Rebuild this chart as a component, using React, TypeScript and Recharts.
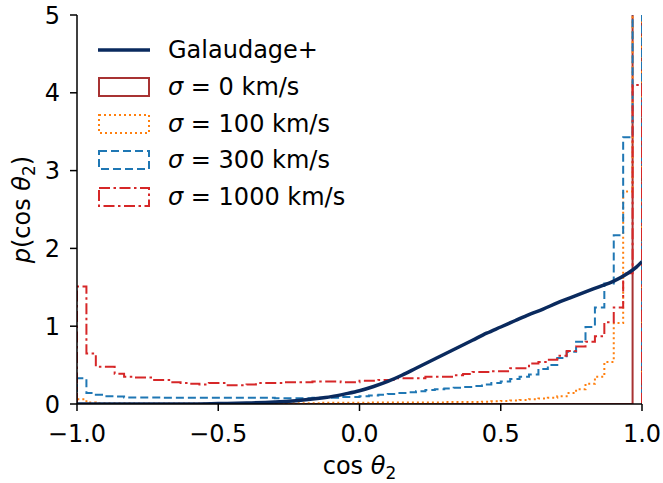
import { LineChart, Line, XAxis, YAxis, Legend } from "recharts";

const FONT = "DejaVu Sans, Liberation Sans, sans-serif";
const FS = 24;

// histogram bins: 60 bins over cos(theta_2) in [-1, 1]
const binCount = 60;
const binEdges = Array.from({ length: binCount + 1 }, (_, i) => -1 + (2 * i) / binCount);

const sigma0 = [
  0, 0, 0, 0, 0, 0, 0, 0, 0, 0,
  0, 0, 0, 0, 0, 0, 0, 0, 0, 0,
  0, 0, 0, 0, 0, 0, 0, 0, 0, 0,
  0, 0, 0, 0, 0, 0, 0, 0, 0, 0,
  0, 0, 0, 0, 0, 0, 0, 0, 0, 0,
  0, 0, 0, 0, 0, 0, 0, 0, 0, 30,
];

const sigma100 = [
  0.06, 0.02, 0.01, 0.01, 0.01, 0.01, 0.005, 0.005, 0.005, 0.005,
  0.005, 0.005, 0.005, 0.005, 0.005, 0.005, 0.01, 0.01, 0.01, 0.01,
  0.01, 0.01, 0.01, 0.01, 0.01, 0.01, 0.015, 0.015, 0.015, 0.015,
  0.015, 0.02, 0.02, 0.02, 0.02, 0.02, 0.02, 0.02, 0.02, 0.025,
  0.025, 0.025, 0.025, 0.03, 0.035, 0.04, 0.045, 0.05, 0.06, 0.07,
  0.08, 0.1, 0.14, 0.19, 0.26, 0.35, 0.54, 1.04, 2.73, 24,
];

const sigma300 = [
  0.33, 0.14, 0.12, 0.1, 0.095, 0.085, 0.085, 0.085, 0.085, 0.08,
  0.08, 0.08, 0.08, 0.08, 0.08, 0.08, 0.08, 0.08, 0.08, 0.08,
  0.08, 0.075, 0.075, 0.075, 0.075, 0.08, 0.08, 0.08, 0.09, 0.09,
  0.1, 0.11, 0.12, 0.13, 0.14, 0.15, 0.165, 0.18, 0.19, 0.2,
  0.21, 0.22, 0.23, 0.25, 0.27, 0.29, 0.32, 0.35, 0.38, 0.45,
  0.5, 0.59, 0.67, 0.8, 0.99, 1.24, 1.55, 2.17, 3.43, 10.5,
];

const sigma1000 = [
  1.51, 0.65, 0.48, 0.48, 0.39, 0.35, 0.34, 0.34, 0.31, 0.31,
  0.28, 0.27, 0.26, 0.25, 0.27, 0.27, 0.24, 0.24, 0.25, 0.27,
  0.27, 0.27, 0.28, 0.28, 0.28, 0.29, 0.29, 0.29, 0.28, 0.28,
  0.3, 0.3, 0.31, 0.31, 0.33, 0.33, 0.33, 0.35, 0.35, 0.35,
  0.37, 0.385, 0.41, 0.41, 0.42, 0.42, 0.46, 0.46, 0.52, 0.54,
  0.57, 0.62, 0.68, 0.74, 0.8, 0.87, 1.05, 1.24, 1.68, 4.1,
];

const galaudageX = [
  -1, -0.6, -0.5, -0.4, -0.3, -0.25, -0.2, -0.15, -0.1, -0.05,
  0, 0.05, 0.1, 0.15, 0.2, 0.25, 0.3, 0.35, 0.4, 0.45,
  0.5, 0.55, 0.6, 0.65, 0.7, 0.75, 0.8, 0.85, 0.9, 0.95,
  0.98, 1,
];
const galaudageY = [
  0, 0, 0.005, 0.012, 0.025, 0.035, 0.05, 0.07, 0.095, 0.13,
  0.17, 0.225, 0.29, 0.37, 0.46, 0.55, 0.64, 0.73, 0.82, 0.91,
  0.99, 1.07, 1.15, 1.22, 1.3, 1.37, 1.44, 1.51, 1.58, 1.68,
  1.76, 1.83,
];

const xTicks = [-1, -0.5, 0, 0.5, 1];
const yTicks = [0, 1, 2, 3, 4, 5];

// outline of a step histogram, closed down to zero at both ends
function stepOutline(values: number[]) {
  const pts = [{ x: binEdges[0], y: 0 }];
  values.forEach((v, i) => pts.push({ x: binEdges[i], y: v }));
  pts.push({ x: binEdges[binCount], y: values[binCount - 1] });
  pts.push({ x: binEdges[binCount], y: 0 });
  return pts;
}

const galaudageData = galaudageX.map((x, i) => ({ x, y: galaudageY[i] }));

const histSeries = [
  { name: "0", values: sigma0, color: "#a83232", dash: undefined },
  { name: "100", values: sigma100, color: "#ff7f0e", dash: "2 3" },
  { name: "300", values: sigma300, color: "#1f77b4", dash: "8 4" },
  { name: "1000", values: sigma1000, color: "#d62728", dash: "11 3.5 2.5 3.5" },
];

const NAVY = "#0a2a5e";

const fmtTick = (v: number) => (v < 0 ? "\u2212" + Math.abs(v).toFixed(1) : v.toFixed(1));

function XLabel(props: any) {
  const vb = props.viewBox || { x: 77, y: 404, width: 565 };
  const cx = vb.x + vb.width / 2;
  return (
    <text x={cx} y={vb.y + 70} textAnchor="middle" fontFamily={FONT} fontSize={FS} fill="#000">
      cos <tspan fontStyle="italic">θ</tspan>
      <tspan fontSize={17} dy={5}>2</tspan>
    </text>
  );
}

function YLabel(props: any) {
  const vb = props.viewBox || { x: 0, y: 15, width: 77, height: 389 };
  const cy = vb.y + vb.height / 2;
  const cx = 30;
  return (
    <text
      x={cx}
      y={cy}
      transform={`rotate(-90, ${cx}, ${cy})`}
      textAnchor="middle"
      fontFamily={FONT}
      fontSize={FS}
      fill="#000"
    >
      <tspan fontStyle="italic">p</tspan>(cos <tspan fontStyle="italic">θ</tspan>
      <tspan fontSize={17} dy={5}>2</tspan>
      <tspan dy={-5}>)</tspan>
    </text>
  );
}

function LegendBox() {
  const rowH = 36.7;
  return (
    <div style={{ fontFamily: FONT, fontSize: FS, color: "#000" }}>
      <div style={{ display: "flex", alignItems: "center", height: rowH }}>
        <svg width={52} height={20} style={{ marginRight: 18 }}>
          <line x1={0} x2={52} y1={10} y2={10} stroke={NAVY} strokeWidth={3.5} />
        </svg>
        <span>Galaudage+</span>
      </div>
      {histSeries.map((s) => (
        <div key={s.name} style={{ display: "flex", alignItems: "center", height: rowH }}>
          <svg width={52} height={20} style={{ marginRight: 18 }}>
            <rect
              x={1}
              y={1}
              width={50}
              height={18}
              fill="none"
              stroke={s.color}
              strokeWidth={2}
              strokeDasharray={s.dash}
            />
          </svg>
          <span>
            <i>σ</i> = {s.name} km/s
          </span>
        </div>
      ))}
    </div>
  );
}

export default function App() {
  return (
    <div style={{ position: "absolute", left: 0, top: 0, background: "#fff" }}>
      <LineChart width={663} height={483} margin={{ top: 15, right: 21, bottom: 0, left: 0 }}>
        <XAxis
          dataKey="x"
          type="number"
          domain={[-1, 1]}
          ticks={xTicks}
          tickFormatter={fmtTick}
          allowDataOverflow
          height={79}
          tickSize={7}
          tickMargin={14}
          axisLine={{ stroke: "#000", strokeWidth: 1.5 }}
          tickLine={{ stroke: "#000", strokeWidth: 1.5 }}
          tick={{ fontSize: FS, fill: "#000", fontFamily: FONT }}
          label={<XLabel />}
        />
        <XAxis
          xAxisId="top"
          orientation="top"
          type="number"
          domain={[-1, 1]}
          height={0}
          tick={false}
          tickLine={false}
          axisLine={{ stroke: "#000", strokeWidth: 1.5 }}
        />
        <YAxis
          type="number"
          domain={[0, 5]}
          ticks={yTicks}
          allowDataOverflow
          width={77}
          tickSize={7}
          tickMargin={10}
          axisLine={{ stroke: "#000", strokeWidth: 1.5 }}
          tickLine={{ stroke: "#000", strokeWidth: 1.5 }}
          tick={{ fontSize: FS, fill: "#000", fontFamily: FONT }}
          label={<YLabel />}
        />
        <YAxis
          yAxisId="right"
          orientation="right"
          domain={[0, 5]}
          width={0}
          tick={false}
          tickLine={false}
          axisLine={{ stroke: "#000", strokeWidth: 1.5 }}
        />
        <Legend
          layout="vertical"
          align="center"
          verticalAlign="middle"
          content={<LegendBox />}
          wrapperStyle={{ left: 98, top: 32, width: "auto" }}
        />
        {histSeries.map((s) => (
          <Line
            key={s.name}
            data={stepOutline(s.values)}
            dataKey="y"
            type="stepAfter"
            stroke={s.color}
            strokeWidth={2}
            strokeDasharray={s.dash}
            dot={false}
            activeDot={false}
            isAnimationActive={false}
            legendType="none"
          />
        ))}
        <Line
          data={galaudageData}
          dataKey="y"
          type="monotone"
          stroke={NAVY}
          strokeWidth={3.5}
          dot={false}
          activeDot={false}
          isAnimationActive={false}
        />
      </LineChart>
    </div>
  );
}
